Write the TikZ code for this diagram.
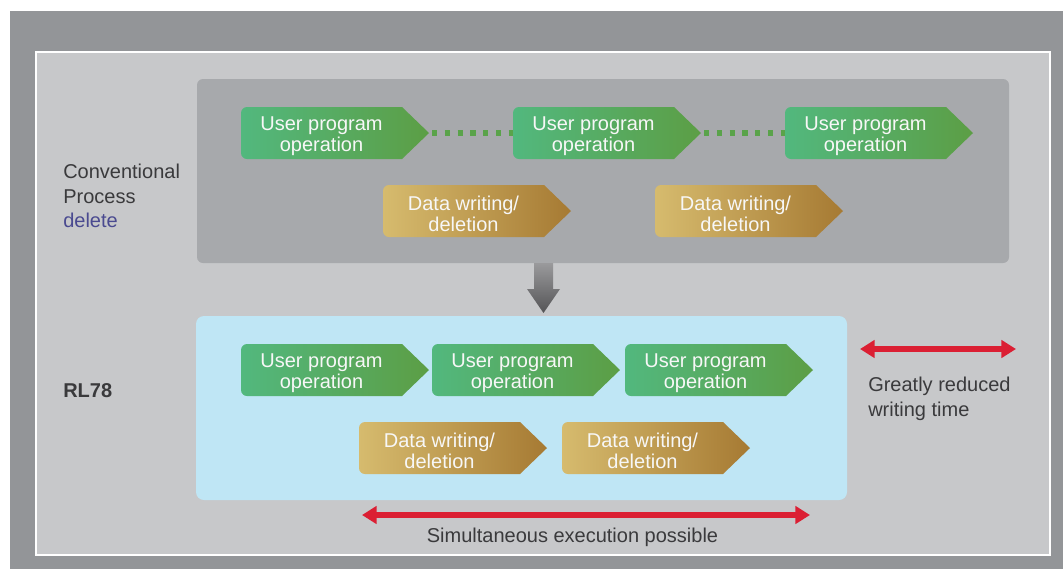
\documentclass[tikz,border=0pt]{standalone}
\usepackage{fontspec}
\setmainfont{Liberation Sans}
\usetikzlibrary{arrows.meta}
\definecolor{outergray}{HTML}{939598}
\definecolor{innergray}{HTML}{C7C8CA}
\definecolor{panelgray}{HTML}{A7A9AC}
\definecolor{panelblue}{HTML}{BFE6F5}
\definecolor{greenL}{HTML}{52B87E}
\definecolor{greenR}{HTML}{5C9E45}
\definecolor{goldL}{HTML}{D6BB6E}
\definecolor{goldR}{HTML}{A67A33}
\definecolor{dotgreen}{HTML}{5AA34A}
\definecolor{redc}{HTML}{DB1F33}
\definecolor{txtdark}{HTML}{3A3A3C}
\definecolor{delblue}{HTML}{4A4A90}
\definecolor{arrtop}{HTML}{9A9A9C}
\definecolor{arrbot}{HTML}{545456}
\tikzset{
  greenbox/.style={left color=greenL, right color=greenR},
  goldbox/.style={left color=goldL, right color=goldR},
  boxtext/.style={align=center, text=white!94!gray, inner sep=0pt,
    font=\fontsize{15pt}{15.8pt}\selectfont},
  plaintext/.style={align=left, text=txtdark, inner sep=0pt,
    font=\fontsize{15pt}{18.4pt}\selectfont},
  dotline/.style={draw=dotgreen, line width=3.9pt, dash pattern=on 3.9pt off 5.7pt},
  redarrow/.style={draw=redc, line width=4.2pt,
    {Triangle[length=11pt,width=13pt]}-{Triangle[length=11pt,width=13pt]}},
}
\newcommand\procbox[5]{%
  \path[#4] ({#2+100},{#3}) [rounded corners=4.5pt] -- ({#2},{#3}) -- ({#2},{#3+52}) -- ({#2+100},{#3+52}) [sharp corners] -- ({#2+161},{#3+52}) -- ({#2+188},{#3+26}) -- ({#2+161},{#3}) -- cycle;
  \coordinate (#1-w) at ({#2},{#3+26});
  \coordinate (#1-e) at ({#2+188},{#3+26});
  \node[boxtext] (#1) at ({#2+80.5},{#3+29}) {#5};
}
\begin{document}
\begin{tikzpicture}[x=0.75pt,y=-0.75pt]
\useasboundingbox (0,0) rectangle (1063,569);
\fill[white] (0,0) rectangle (1063,569);
\fill[outergray] (10,11) rectangle (1063,569);
\filldraw[fill=innergray, draw=white, line width=2pt] (36,52) rectangle (1050,555);
% panels
\fill[panelgray, rounded corners=4.5pt] (197,79) rectangle (1009,263);
\fill[panelblue, rounded corners=6pt] (196,316) rectangle (847,500);
% down arrow
\shade[top color=arrtop, bottom color=arrbot] (534,263) -- (553,263) -- (553,289) -- (560,289) -- (543.5,313) -- (527,289) -- (534,289) -- cycle;
% dotted connectors (behind boxes)
\coordinate (d1a) at (432,133);
\coordinate (d1b) at (516,133);
\coordinate (d2a) at (704,133);
\coordinate (d2b) at (788,133);
\draw[dotline] (d1a) -- (d1b);
\draw[dotline] (d2a) -- (d2b);
% conventional process boxes
\procbox{u1}{241}{107}{greenbox}{User program\\operation}
\procbox{u2}{513}{107}{greenbox}{User program\\operation}
\procbox{u3}{785}{107}{greenbox}{User program\\operation}
\procbox{w1}{383}{185}{goldbox}{Data writing/\\deletion}
\procbox{w2}{655}{185}{goldbox}{Data writing/\\deletion}
% RL78 boxes
\procbox{r1}{241}{344}{greenbox}{User program\\operation}
\procbox{r2}{432}{344}{greenbox}{User program\\operation}
\procbox{r3}{625}{344}{greenbox}{User program\\operation}
\procbox{s1}{359}{422}{goldbox}{Data writing/\\deletion}
\procbox{s2}{562}{422}{goldbox}{Data writing/\\deletion}
% labels
\node[plaintext, anchor=west] (conv) at (63,196) {Conventional\\Process\\\textcolor{delblue}{delete}};
\node[plaintext, anchor=west, font=\fontsize{15pt}{18pt}\selectfont\bfseries] (rl) at (63,391) {RL78};
\node[plaintext, anchor=west] (gr) at (868,399) {Greatly reduced\\writing time};
\node[plaintext, align=center] (sim) at (572.5,537) {Simultaneous execution possible};
% red arrows
\coordinate (ra) at (860,349);
\coordinate (rb) at (1016,349);
\coordinate (sa) at (362,515);
\coordinate (sb) at (810,515);
\draw[redarrow] (ra) -- (rb);
\draw[redarrow] (sa) -- (sb);
\end{tikzpicture}
\end{document}
